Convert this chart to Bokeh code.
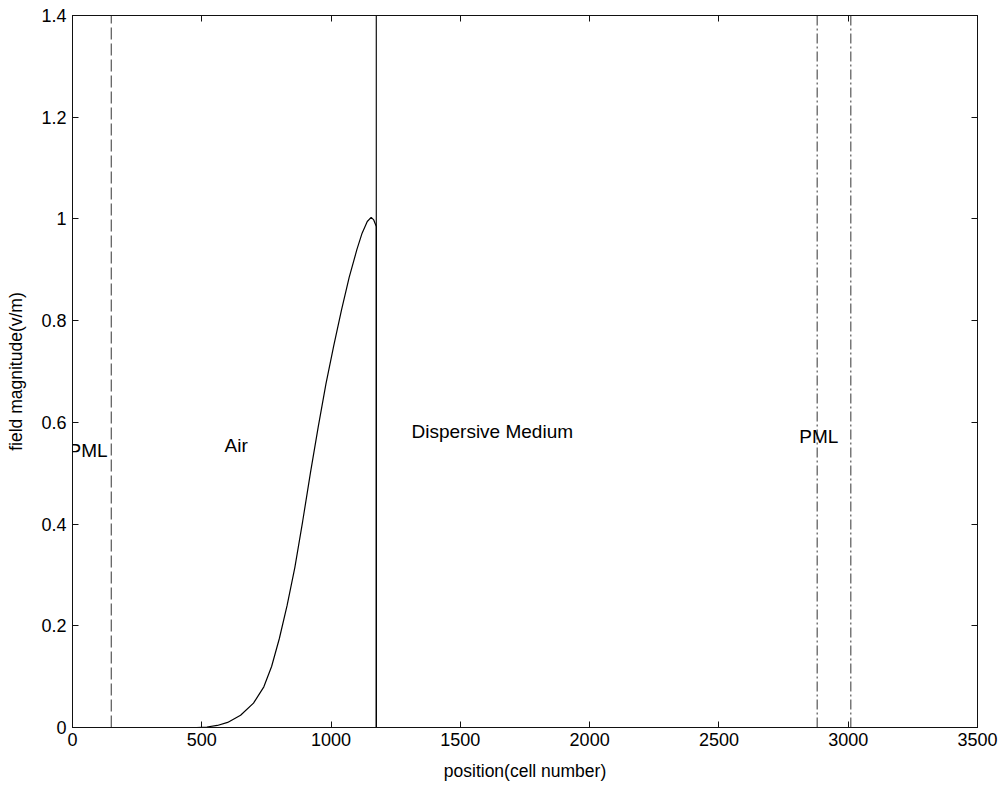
from bokeh.plotting import figure
from bokeh.models import FixedTicker, LinearAxis, Range1d, Label
from bokeh.embed import file_html
from bokeh.resources import INLINE

# Field magnitude of the pulse along the grid (cell number -> V/m)
position = [0, 480, 520, 560, 600, 650, 700, 740, 770, 800, 830, 860, 890,
            920, 950, 980, 1010, 1040, 1070, 1100, 1120, 1140, 1155, 1165,
            1175, 1175, 3500]
magnitude = [0, 0, 0.001, 0.004, 0.01, 0.024, 0.048, 0.08, 0.12, 0.175,
             0.24, 0.315, 0.405, 0.5, 0.59, 0.675, 0.75, 0.82, 0.885, 0.94,
             0.972, 0.995, 1.003, 0.998, 0.985, 0, 0]

# Region boundaries (cell numbers)
pml_left_edge = 150
interface = 1175
pml_right_edges = [2880, 3010]

# Region names and where they are written
region_names = ["PML", "Air", "Dispersive Medium", "PML"]
region_x = [-15, 588, 1311, 2811]
region_y = [0.545, 0.554, 0.582, 0.572]

x_ticks = [0, 500, 1000, 1500, 2000, 2500, 3000, 3500]
y_ticks = [0, 0.2, 0.4, 0.6, 0.8, 1.0, 1.2, 1.4]
y_tick_labels = ["0", "0.2", "0.4", "0.6", "0.8", "1", "1.2", "1.4"]

FONT = "Liberation Sans"

p = figure(width=1005, height=791, output_backend="svg", toolbar_location=None,
           x_range=Range1d(0, 3500), y_range=Range1d(0, 1.4),
           min_border_left=72, min_border_right=28,
           min_border_top=15, min_border_bottom=64)
p.background_fill_color = "white"
p.border_fill_color = "white"
p.outline_line_color = "#111111"
p.outline_line_width = 1
p.grid.visible = False

# Boundary lines
boundary_style = dict(line_color="#555555", line_width=1.2)
p.line([pml_left_edge, pml_left_edge], [0, 1.4], line_dash="12 4", **boundary_style)
p.line([interface, interface], [0, 1.4], line_color="#222222", line_width=1.3)
for xb in pml_right_edges:
    p.line([xb, xb], [0, 1.4], line_dash="10 3 2 3", **boundary_style)

# Field curve
p.line(position, magnitude, line_color="black", line_width=1.2)

for name, x, y in zip(region_names, region_x, region_y):
    p.add_layout(Label(x=x, y=y, text=name, text_font=FONT, text_font_size="19px",
                       text_color="black", text_baseline="middle", text_align="left"))

def style_axis(ax, labels=True):
    ax.major_tick_in = 6
    ax.major_tick_out = 0
    ax.minor_tick_in = 0
    ax.minor_tick_out = 0
    ax.axis_line_color = "#111111"
    ax.major_tick_line_color = "#111111"
    ax.major_label_text_font = FONT
    ax.major_label_text_font_size = "18px"
    ax.major_label_text_color = "black"
    ax.axis_label_text_font = FONT
    ax.axis_label_text_font_size = "17.5px"
    ax.axis_label_text_font_style = "normal"
    ax.axis_label_text_color = "black"
    if not labels:
        ax.major_label_text_font_size = "0px"

p.xaxis.ticker = FixedTicker(ticks=x_ticks)
p.yaxis.ticker = FixedTicker(ticks=y_ticks)
p.yaxis.major_label_overrides = {t: s for t, s in zip(y_ticks, y_tick_labels)}
p.xaxis.axis_label = "position(cell number)"
p.yaxis.axis_label = "field magnitude(v/m)"
style_axis(p.xaxis[0])
style_axis(p.yaxis[0])
p.xaxis.major_label_standoff = 5
p.yaxis.major_label_standoff = 6
p.xaxis.axis_label_standoff = 12
p.yaxis.axis_label_standoff = 12

right_axis = LinearAxis(ticker=FixedTicker(ticks=y_ticks))
top_axis = LinearAxis(ticker=FixedTicker(ticks=x_ticks))
style_axis(right_axis, labels=False)
style_axis(top_axis, labels=False)
p.add_layout(right_axis, "right")
p.add_layout(top_axis, "above")

open("out.html", "w").write(file_html(p, INLINE))
